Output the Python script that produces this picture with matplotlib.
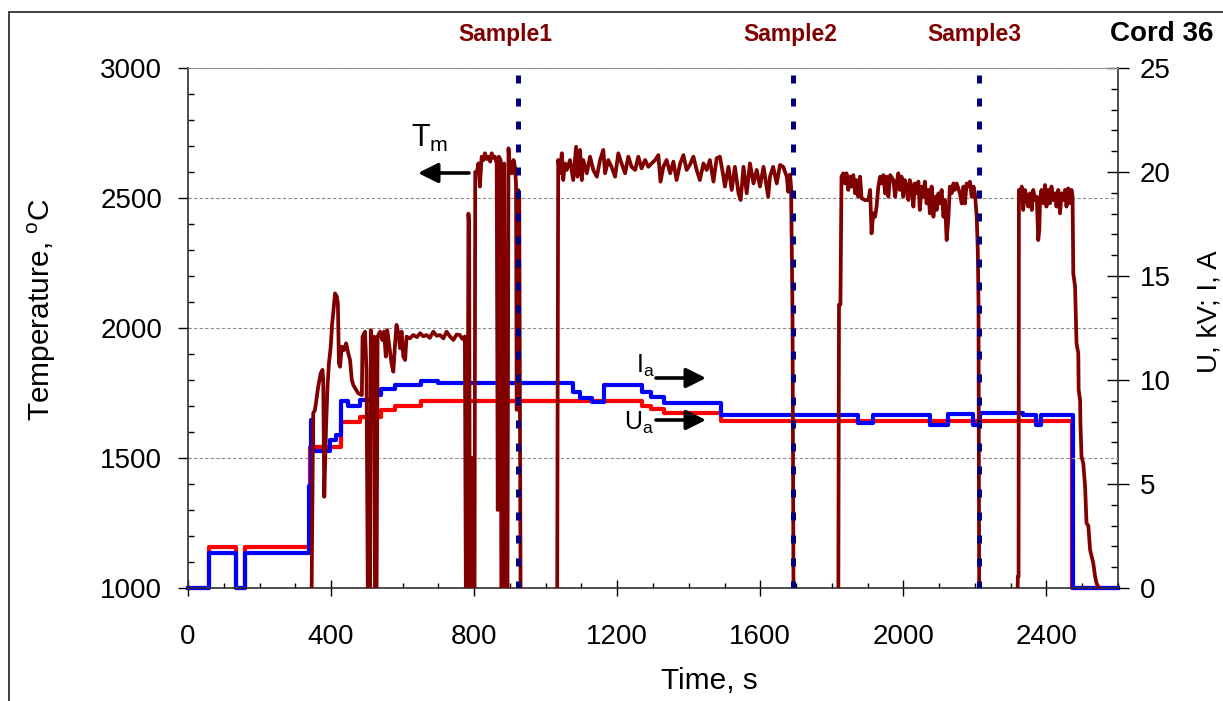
import numpy as np
import matplotlib.pyplot as plt
from matplotlib.ticker import MultipleLocator
from matplotlib.patches import Rectangle

plt.rcParams['font.family'] = ['Liberation Sans', 'DejaVu Sans']
plt.rcParams['mathtext.fontset'] = 'custom'
plt.rcParams['mathtext.rm'] = 'Liberation Sans'
plt.rcParams['mathtext.it'] = 'Liberation Sans:italic'
plt.rcParams['mathtext.bf'] = 'Liberation Sans:bold'

#---------------------Dados----------------------#
# temperatura (s, oC) - abaixo de 1000 fica fora do grafico
tm_t = [0, 345, 350, 355, 360, 364, 371, 376, 378, 381, 386, 390, 394, 399, 403, 406, 411, 416, 419, 422,
        425, 430, 436, 442, 448, 453, 458, 462, 470, 476, 486, 488, 495, 499, 503, 509, 511, 516, 520, 523,
        527, 530, 537, 543, 548, 553, 557, 563, 569, 574, 579, 583, 588, 593, 597, 602, 607, 611, 620, 630,
        640, 649, 658, 667, 676, 686, 695, 705, 714, 723, 732, 742, 751, 760, 767, 774, 777, 781, 784, 786,
        788, 792, 795, 797, 801, 803, 807, 812, 816, 821, 826, 830, 835, 840, 845, 849, 854, 858, 863, 866,
        869, 874, 876, 882, 884, 888, 893, 896, 900, 905, 910, 914, 917, 919, 923, 926, 930, 1032, 1035,
        1040, 1045, 1049, 1054, 1059, 1068, 1077, 1085, 1089, 1096, 1101, 1105, 1115, 1124, 1133, 1143,
        1152, 1161, 1166, 1175, 1184, 1194, 1203, 1212, 1222, 1231, 1240, 1250, 1259, 1268, 1278, 1287,
        1296, 1306, 1315, 1321, 1329, 1338, 1348, 1357, 1366, 1376, 1385, 1394, 1403, 1413, 1422, 1431,
        1441, 1450, 1459, 1469, 1478, 1487, 1492, 1497, 1501, 1511, 1520, 1529, 1539, 1545, 1553, 1562,
        1571, 1581, 1590, 1599, 1609, 1622, 1627, 1636, 1646, 1655, 1664, 1674, 1678, 1683, 1686, 1690,
        1693, 1818, 1820, 1824, 1827, 1832, 1837, 1841, 1846, 1851, 1855, 1860, 1865, 1869, 1874, 1879,
        1883, 1893, 1902, 1907, 1911, 1916, 1921, 1925, 1930, 1935, 1939, 1944, 1949, 1953, 1958, 1963,
        1972, 1977, 1981, 1986, 1990, 1995, 2000, 2004, 2009, 2014, 2018, 2023, 2028, 2032, 2037, 2042,
        2046, 2051, 2056, 2060, 2065, 2070, 2074, 2079, 2084, 2088, 2093, 2098, 2102, 2107, 2112, 2116,
        2121, 2126, 2130, 2135, 2140, 2144, 2149, 2158, 2163, 2168, 2172, 2177, 2182, 2186, 2191, 2196,
        2200, 2205, 2208, 2210, 2212, 2318, 2320, 2322, 2323, 2326, 2331, 2335, 2340, 2345, 2349, 2354,
        2359, 2363, 2368, 2373, 2377, 2380, 2382, 2386, 2391, 2396, 2400, 2405, 2410, 2414, 2419, 2424,
        2428, 2433, 2438, 2442, 2447, 2452, 2456, 2461, 2466, 2470, 2473, 2475, 2480, 2484, 2489, 2490,
        2494, 2495, 2498, 2503, 2508, 2512, 2517, 2522, 2531, 2536, 2540, 2545, 2552, 2600]
tm_v = [900, 900, 1672, 1685, 1736, 1774, 1826, 1839, 1800, 1351, 1621, 1774, 1864, 1928, 2018, 2056, 2133, 2121, 2095, 1864,
        1851, 1928, 1915, 1941, 1903, 1877, 1800, 1781, 1762, 1749, 1742, 1967, 1986, 1838, 900, 900, 1992, 1903, 1967, 900,
        900, 1967, 1986, 1954, 1986, 1890, 1992, 1928, 1864, 1832, 1941, 2012, 1980, 1922, 1986, 1890, 1877, 1967, 1960, 1973,
        1965, 1980, 1968, 1973, 1962, 1986, 1970, 1973, 1960, 1986, 1968, 1954, 1975, 1973, 1958, 1967, 900, 900, 2440, 2400,
        900, 900, 1500, 900, 900, 2600, 2595, 2633, 2544, 2659, 2646, 2672, 2650, 2659, 2640, 2672, 2655, 2659, 2633, 1300,
        2659, 2646, 900, 900, 2633, 900, 900, 2691, 2620, 2595, 2646, 2620, 2556, 1685, 2531, 2518, 900, 900, 2646,
        2595, 2672, 2569, 2633, 2608, 2646, 2569, 2697, 2582, 2685, 2569, 2646, 2595, 2659, 2608, 2582,
        2646, 2685, 2595, 2646, 2620, 2582, 2672, 2633, 2595, 2659, 2620, 2608, 2659, 2614, 2646, 2620,
        2633, 2646, 2665, 2563, 2620, 2646, 2595, 2640, 2569, 2633, 2665, 2608, 2627, 2659, 2608, 2569,
        2633, 2608, 2646, 2563, 2653, 2659, 2620, 2582, 2544, 2620, 2531, 2620, 2518, 2492, 2620, 2518,
        2633, 2556, 2608, 2544, 2620, 2505, 2582, 2620, 2556, 2627, 2620, 2582, 2524, 2590, 2544, 2057,
        900, 900, 2090, 2090, 2582, 2595, 2556, 2595, 2531, 2582, 2544, 2588, 2518, 2569, 2505, 2582,
        2499, 2492, 2492, 2531, 2364, 2441, 2428, 2467, 2544, 2582, 2556, 2588, 2518, 2582, 2505, 2588,
        2569, 2505, 2556, 2595, 2531, 2582, 2505, 2569, 2544, 2492, 2569, 2544, 2467, 2556, 2518, 2563,
        2454, 2544, 2505, 2563, 2479, 2531, 2441, 2544, 2428, 2505, 2454, 2518, 2479, 2531, 2428, 2492,
        2338, 2428, 2544, 2518, 2556, 2531, 2556, 2518, 2479, 2544, 2479, 2556, 2544, 2563, 2505, 2544,
        2518, 2428, 2300, 2100, 900, 900, 1044, 1044, 2531, 2518, 2544, 2454, 2531, 2505, 2467, 2518,
        2454, 2531, 2492, 2505, 2338, 2377, 2492, 2531, 2480, 2550, 2467, 2531, 2480, 2544, 2492, 2518,
        2467, 2531, 2441, 2518, 2492, 2531, 2467, 2537, 2480, 2531, 2505, 2210, 2159, 1941, 1903, 1762,
        1723, 1633, 1505, 1479, 1390, 1249, 1240, 1146, 1095, 1044, 1018, 1005, 980, 980]

# corrente Ia (A) - degraus
ia_t = [0, 60, 134, 160, 338, 344, 350, 398, 413, 427, 448, 480, 520, 540, 580, 650, 700, 1077, 1095,
        1130, 1163, 1268, 1295, 1330, 1490, 1873, 1915, 2074, 2125, 2196, 2215, 2335, 2370, 2385, 2474, 2600]
ia_v = [0, 1.67, 0, 1.67, 4.9, 8.1, 6.6, 7.1, 7.36, 9.0, 8.77, 9.05, 9.28, 9.55, 9.78, 9.95, 9.85, 9.4, 9.15,
        8.92, 9.76, 9.44, 9.18, 8.91, 8.33, 7.93, 8.33, 7.84, 8.36, 7.84, 8.43, 8.3, 7.82, 8.3, 0, 0]

# tensao Ua (kV) - degraus
ua_t = [0, 60, 134, 160, 340, 427, 480, 540, 580, 650, 1268, 1295, 1330, 1490, 2470, 2600]
ua_v = [0, 1.95, 0, 1.95, 6.8, 8.0, 8.2, 8.56, 8.77, 9.0, 8.75, 8.59, 8.43, 8.03, 0, 0]

samples_t = [923, 1691, 2211]
samples_lbl = ['Sample1', 'Sample2', 'Sample3']
samples_px = [505, 790, 974]   # posicao do texto (pixels)

W, H = 1223, 701
def fx(px):
    return px / W
def fy(py):
    return 1 - py / H

#---------------------Figura----------------------#
fig = plt.figure(figsize=(W / 100, H / 100), dpi=100)
ax = fig.add_axes([fx(188), fy(588), (1118 - 188) / W, (588 - 68) / H])
ax2 = ax.twinx()

# temperatura por cima das curvas U, I
ax.set_zorder(2)
ax2.set_zorder(1)
ax.patch.set_visible(False)

ax2.step(ua_t, ua_v, where='post', color='#ff0000', lw=3.0, clip_on=False)
ax2.step(ia_t, ia_v, where='post', color='#0000ff', lw=3.0, clip_on=False)
ax.plot(tm_t, tm_v, color='#800000', lw=2.7, zorder=3)
ax.vlines(samples_t, 2973, 1000, colors='#000080', linestyles=[(0, (1.6, 3))], lw=3.6, zorder=5)

ax.set_xlim(0, 2600)
ax.set_ylim(1000, 3000)
ax2.set_ylim(0, 25)
ax.xaxis.set_major_locator(MultipleLocator(400))
ax.xaxis.set_minor_locator(MultipleLocator(100))
ax.yaxis.set_major_locator(MultipleLocator(500))
ax.yaxis.set_minor_locator(MultipleLocator(100))
ax2.yaxis.set_major_locator(MultipleLocator(5))
ax2.yaxis.set_minor_locator(MultipleLocator(1))

ax.yaxis.grid(True, which='major', linestyle=(0, (3, 2)), color='#8c8c8c', lw=0.8)

ax.tick_params(axis='x', which='major', direction='inout', length=11.5, width=1, labelsize=20, pad=20)
ax.tick_params(axis='x', which='minor', direction='in', length=3.6, width=1)
ax.tick_params(axis='y', which='major', direction='out', length=7.2, width=1, labelsize=20, pad=11.5)
ax.tick_params(axis='y', which='minor', direction='in', length=4.3, width=1)
ax.tick_params(right=False, top=False, which='both')
ax2.tick_params(axis='y', which='major', direction='inout', length=15.8, width=1, labelsize=20, pad=8)
ax2.tick_params(axis='y', which='minor', direction='in', length=5, width=1)

ax.spines['top'].set_color('#909090')
ax.spines['right'].set_visible(False)
for s in ['top', 'left', 'bottom']:
    ax2.spines[s].set_visible(False)
for s in ['left', 'bottom']:
    ax.spines[s].set_color('#303030')
    ax.spines[s].set_linewidth(1.2)
ax2.spines['right'].set_color('#303030')
ax2.spines['right'].set_linewidth(1.2)

#---------------------Textos----------------------#
fig.text(fx(709), fy(681), 'Time, s', fontsize=21.5, ha='center', va='center')
fig.text(fx(42), fy(310), r'Temperature, $^{\mathrm{o}}$C', fontsize=21.5, rotation=90, ha='center', va='center')
fig.text(fx(1209), fy(312), 'U, kV; I, A', fontsize=20, rotation=90, ha='center', va='center')

for px, lbl in zip(samples_px, samples_lbl):
    fig.text(fx(px), fy(35), lbl, fontsize=16.5, fontweight='bold', color='#800000', ha='center', va='center')
fig.text(fx(1162), fy(34), 'Cord 36', fontsize=20, fontweight='bold', color='black', ha='center', va='center')

fig.text(fx(411), fy(147), r'T$_{\mathrm{m}}$', fontsize=22, ha='left', va='baseline')
fig.text(fx(636), fy(373), r'I$_{\mathrm{a}}$', fontsize=18, ha='left', va='baseline')
fig.text(fx(624), fy(430), r'U$_{\mathrm{a}}$', fontsize=18, ha='left', va='baseline')

arrow = dict(arrowstyle='-|>,head_length=0.6,head_width=0.3', mutation_scale=20, lw=2.6, color='black',
             shrinkA=0, shrinkB=0)
ax.annotate('', xy=(418, H - 173), xytext=(469, H - 173), xycoords='figure pixels', textcoords='figure pixels', arrowprops=arrow)
ax.annotate('', xy=(706, H - 378), xytext=(656, H - 378), xycoords='figure pixels', textcoords='figure pixels', arrowprops=arrow)
ax.annotate('', xy=(706, H - 420), xytext=(656, H - 420), xycoords='figure pixels', textcoords='figure pixels', arrowprops=arrow)

# moldura externa
fig.add_artist(Rectangle((fx(9), -0.1), 1.2, fy(12) + 0.1, transform=fig.transFigure,
                         fill=False, edgecolor='#404040', lw=1.4))

fig.savefig('out.png', dpi=100)
